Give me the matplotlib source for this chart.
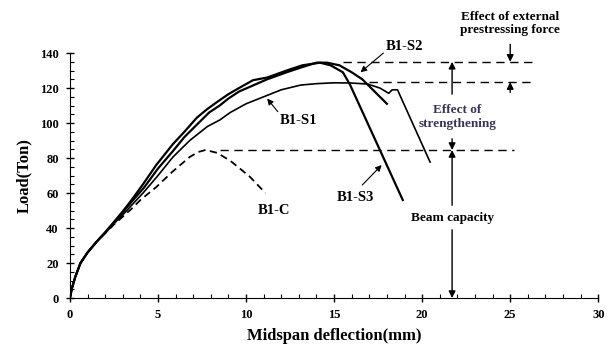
import matplotlib
matplotlib.use("Agg")
import matplotlib.pyplot as plt
from matplotlib.ticker import MultipleLocator

plt.rcParams['font.family'] = ['Liberation Serif', 'DejaVu Serif']
plt.rcParams['font.weight'] = 'bold'

# load-deflection curves (mm, Ton)
c_x = [0, 0.1, 0.3, 0.6, 1.0, 1.5, 2.0, 2.5, 3.0, 3.5, 4.0, 4.9, 5.8, 6.8,
       7.3, 7.7, 8.35, 9.1, 10.2, 11.1]
c_y = [0, 5, 12, 20, 26, 32, 37, 42, 46.5, 51, 56, 63.4, 72, 80.6,
       83.5, 84.6, 83, 78.5, 69.5, 60]

s1_x = [0, 0.1, 0.3, 0.6, 1.0, 1.5, 2.0, 2.5, 3.0, 3.5, 4.15, 5.0, 5.85, 6.8,
        7.8, 8.5, 9.1, 10.0, 11.0, 12.0, 13.1, 14.0, 15.0, 15.9, 16.9, 17.6,
        18.1, 18.3, 18.6, 20.45]
s1_y = [0, 5, 12, 20, 26, 32, 37, 42.5, 47.5, 53, 60, 70, 80.6, 90,
        98, 101.7, 106, 111, 115, 119, 121.7, 122.5, 123, 122.9, 122.3, 120,
        117, 119, 119, 77.7]

s2_x = [0, 0.1, 0.3, 0.6, 1.0, 1.5, 2.0, 2.5, 3.0, 3.5, 4.2, 5.0, 5.85, 6.5,
        7.2, 7.9, 8.5, 9.0, 9.6, 10.4, 11.2, 12.3, 13.2, 14.0, 14.6, 15.3,
        16.0, 16.6, 17.2, 18.0]
s2_y = [0, 5, 12, 20, 26, 32, 37.5, 43, 49, 55, 63, 74, 84, 92,
        99, 106, 110, 114, 118, 121.5, 125, 129, 132, 134.5, 134.5, 133,
        129, 125, 119, 111]

s3_x = [0, 0.1, 0.3, 0.6, 1.0, 1.5, 2.0, 2.5, 3.0, 3.5, 4.15, 4.9, 5.85, 6.5,
        7.2, 7.8, 8.35, 9.0, 9.6, 10.4, 11.2, 12.3, 13.2, 14.2, 14.8, 15.5,
        15.9, 17.6, 18.9]
s3_y = [0, 5, 12, 20, 26, 32, 37.5, 43.5, 49.5, 56, 65, 76, 88, 95,
        103, 108, 112, 116.5, 120, 124.5, 126, 130, 133, 134.5, 133, 129,
        122, 84.6, 56]

# reference levels
cap_level = 84.6
str_level = 123.4
pre_level = 135

fig = plt.figure(figsize=(6.08, 3.49), dpi=100)
ax = fig.add_axes([0.115, 0.146, 0.869, 0.702])

ax.plot(s3_x, s3_y, color='black', lw=1.6)
ax.plot(s2_x, s2_y, color='black', lw=1.6)
ax.plot(s1_x, s1_y, color='black', lw=1.2)
ax.plot(c_x, c_y, color='black', lw=1.3, dashes=(4, 2.5))

# horizontal dashed levels
dash = dict(color='black', lw=1.0, dashes=(6, 4))
ax.plot([8.5, 25.2], [cap_level, cap_level], **dash)
ax.plot([17.0, 26.3], [str_level, str_level], **dash)
ax.plot([15.5, 26.5], [pre_level, pre_level], **dash)

ap = dict(arrowstyle='-|>', color='black', lw=1.0, mutation_scale=10,
          shrinkA=0, shrinkB=0)

# vertical arrows at x = 21.7
vx = 21.7
ax.annotate('', xy=(vx, pre_level), xytext=(vx, 116.5), arrowprops=ap)
ax.annotate('', xy=(vx, cap_level), xytext=(vx, 91), arrowprops=ap)
ax.annotate('', xy=(vx, cap_level), xytext=(vx, 53), arrowprops=ap)
ax.annotate('', xy=(vx, 0), xytext=(vx, 39), arrowprops=ap)

# prestressing arrows at x = 25
ax.annotate('', xy=(25, pre_level), xytext=(25, 145), arrowprops=ap,
            annotation_clip=False)
ax.annotate('', xy=(25, str_level), xytext=(25, 117.5), arrowprops=ap)

ax.text(25, 157, 'Effect of external\nprestressing force', ha='center',
        va='center', fontsize=9.5, linespacing=1.15, clip_on=False)
ax.text(22.0, 103.5, 'Effect of\nstrengthening', ha='center', va='center',
        fontsize=9.5, linespacing=1.2, color='#3b3355')
ax.text(21.7, 46, 'Beam capacity', ha='center', va='center', fontsize=9.5)

# curve labels
lap = dict(arrowstyle='-|>', color='black', lw=0.8, mutation_scale=9,
           shrinkA=0, shrinkB=0)
ax.text(19.0, 144, 'B1-S2', ha='center', va='center', fontsize=10.5)
ax.annotate('', xy=(16.5, 129), xytext=(17.8, 140), arrowprops=lap)
ax.annotate('', xy=(11.2, 114), xytext=(11.8, 106.5), arrowprops=lap)
ax.text(13.0, 101.5, 'B1-S1', ha='center', va='center', fontsize=10.5)
ax.annotate('', xy=(17.7, 76), xytext=(16.6, 64.6), arrowprops=lap)
ax.text(16.2, 57.5, 'B1-S3', ha='center', va='center', fontsize=10.5)
ax.text(11.6, 50, 'B1-C', ha='center', va='center', fontsize=10.5)

ax.set_xlim(0, 30)
ax.set_ylim(0, 140)
ax.xaxis.set_major_locator(MultipleLocator(5))
ax.xaxis.set_minor_locator(MultipleLocator(1))
ax.yaxis.set_major_locator(MultipleLocator(20))
ax.yaxis.set_minor_locator(MultipleLocator(5))
ax.tick_params(which='major', direction='inout', length=6, width=1.0,
               labelsize=9, pad=5)
ax.tick_params(which='minor', direction='in', length=3, width=0.8)
for lab in ax.get_xticklabels() + ax.get_yticklabels():
    lab.set_fontweight('bold')

ax.spines['top'].set_visible(False)
ax.spines['right'].set_visible(False)

ax.set_xlabel('Midspan deflection(mm)', fontsize=12, fontweight='bold',
              labelpad=5)
ax.set_ylabel('Load(Ton)', fontsize=12, fontweight='bold', labelpad=6)

fig.savefig('out.png', dpi=100)
